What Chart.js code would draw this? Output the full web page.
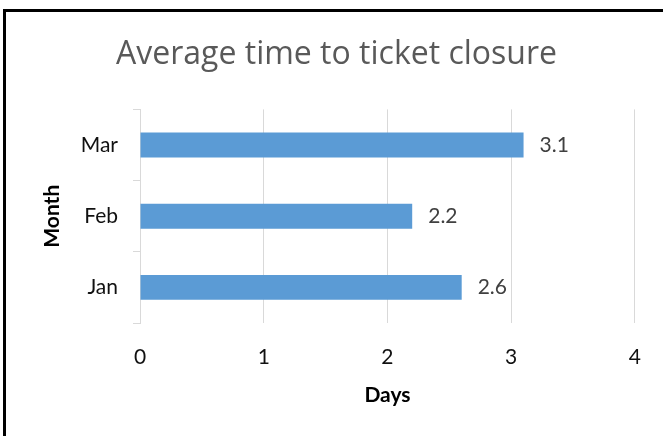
<!DOCTYPE html>
<html>
<head>
<meta charset="utf-8">
<script src="https://cdn.jsdelivr.net/npm/chart.js@4"></script>
<style>
  html, body { margin: 0; padding: 0; background: #fff; }
  #wrap { position: relative; width: 663px; height: 436px; overflow: hidden; }
  #frame {
    position: absolute; left: 3px; top: 9px; width: 700px; height: 500px;
    border-left: 3px solid #000; border-top: 3px solid #000;
    pointer-events: none;
  }
</style>
</head>
<body>
<div id="wrap">
  <canvas id="closureChart" width="663" height="436"></canvas>
  <div id="frame"></div>
</div>
<script>
const months = ['Jan', 'Feb', 'Mar'];
const avgDays = [2.6, 2.2, 3.1];
const dayTicks = [0, 1, 2, 3, 4];

Chart.defaults.font.family = 'Lato, "Open Sans", sans-serif';

// writes the value just past the end of each bar
const valueLabels = {
  id: 'valueLabels',
  afterDatasetsDraw(chart) {
    const ctx = chart.ctx;
    const meta = chart.getDatasetMeta(0);
    ctx.save();
    ctx.font = '21px Lato';
    ctx.fillStyle = '#404040';
    ctx.textAlign = 'left';
    ctx.textBaseline = 'middle';
    meta.data.forEach((bar, i) => {
      ctx.fillText(avgDays[i].toFixed(1), bar.x + 16, bar.y);
    });
    ctx.restore();
  }
};

function createChart(id) {
  const chartContext = document.getElementById(id);

  return new Chart(chartContext, {
    type: 'bar',
    data: {
      labels: months,
      datasets: [
        {
          label: 'Average days',
          data: avgDays,
          backgroundColor: '#5B9BD5',
          borderWidth: 0,
          barPercentage: 0.35,
          categoryPercentage: 1
        }
      ]
    },
    options: {
      indexAxis: 'y',
      responsive: false,
      animation: false,
      devicePixelRatio: 1,
      layout: { padding: { left: 10 } },
      scales: {
        x: {
          min: 0,
          max: 4,
          afterBuildTicks: (scale) => {
            scale.ticks = dayTicks.map((v) => ({ value: v }));
          },
          afterFit: (scale) => {
            scale.height = 113;
          },
          grid: {
            color: '#d9d9d9',
            drawTicks: false
          },
          border: { display: false },
          ticks: {
            color: '#111',
            font: { size: 21 },
            padding: 22
          },
          title: {
            display: true,
            text: 'Days',
            color: '#000',
            font: { size: 21, weight: 'bold' },
            padding: { top: 0, bottom: 28 }
          }
        },
        y: {
          reverse: true,
          afterFit: (scale) => {
            scale.width = 130;
          },
          grid: {
            color: '#d9d9d9',
            drawOnChartArea: false,
            drawTicks: true,
            tickLength: 7,
            offset: true
          },
          border: { display: true, color: '#d9d9d9' },
          ticks: {
            color: '#111',
            font: { size: 21 },
            padding: 15
          },
          title: {
            display: true,
            text: 'Month',
            color: '#000',
            font: { size: 21, weight: 'bold' },
            padding: { top: 30, bottom: 0 }
          }
        }
      },
      plugins: {
        legend: { display: false },
        tooltip: { enabled: false },
        title: {
          display: true,
          text: 'Average time to ticket closure',
          color: '#595959',
          font: { family: '"Open Sans", sans-serif', size: 32, weight: 'normal' },
          padding: { top: 36, bottom: 35 }
        }
      }
    },
    plugins: [valueLabels]
  });
}

createChart('closureChart');
</script>
</body>
</html>
